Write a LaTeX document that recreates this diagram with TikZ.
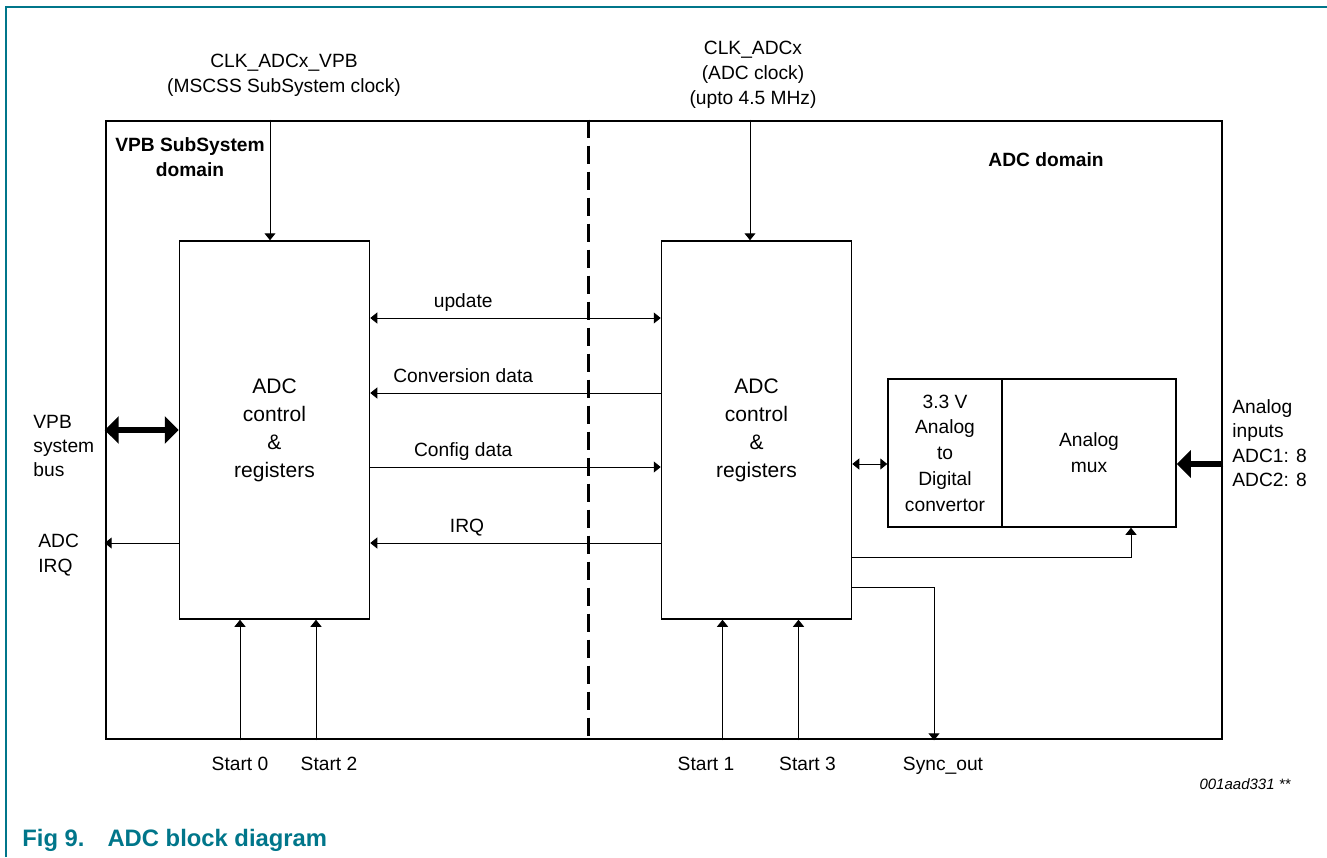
\documentclass[tikz,border=0pt]{standalone}
\usepackage{fontspec}
\setmainfont{Liberation Sans}
\usetikzlibrary{arrows.meta}
\definecolor{nxpteal}{RGB}{0,118,138}

\begin{document}
\begin{tikzpicture}
        [
            x = 0.5pt, y = -0.5pt,
            every node/.style   = {font=\fontsize{9.6}{12.6}\selectfont, inner sep=0pt, align=center},
            boxed/.style        = {shape=rectangle, draw, line width=0.75pt, align=center},
            regbox/.style       = {boxed, minimum width=95pt, minimum height=189pt, font=\fontsize{10.5}{14}\selectfont},
            domainlabel/.style  = {font=\bfseries\fontsize{9.6}{12.8}\selectfont},
            siglabel/.style     = {above=3pt, text height=7pt, text depth=2pt},
            pinlabel/.style     = {text height=7pt, text depth=2pt},
            sig/.style          = {draw, line width=0.5pt, >={Triangle[length=3.5pt,width=5.5pt]}},
            bus/.style          = {draw, line width=2.6pt, >={Triangle[length=7pt,width=13.5pt]}},
            ]
            \useasboundingbox (0,0) rectangle (1327,857);
            % page frame
            \draw [nxpteal, line width=0.8pt] (6,857) -- (6,7) -- (1327,7);
            % blocks
            \node [draw, line width=1.3pt, minimum width=558pt, minimum height=309pt] (domain) at (664,430) {};
            \node [regbox] (vpbreg) at (274.5,430) {ADC\\control\\\&\\registers};
            \node [regbox] (adcreg) at (756.5,430) {ADC\\control\\\&\\registers};
            \node [boxed, minimum width=57pt, minimum height=74pt, font=\fontsize{9.6}{12.9}\selectfont] (adcv) at (945,453) {3.3 V\\Analog\\to\\Digital\\convertor};
            \node [boxed, minimum width=87pt, minimum height=74pt, font=\fontsize{9.6}{13}\selectfont] (mux) at (1089,453) {Analog\\mux};
            \draw [line width=1.5pt, dash pattern=on 9pt off 4pt] (588,0 |- domain.north) -- (588,0 |- domain.south);
            % domain names
            \node [domainlabel] (vpbdom) at (190,157) {VPB SubSystem\\domain};
            \node [domainlabel] (adcdom) at (1046,160) {ADC domain};
            % clocks
            \node (clkvpb) at (284,75) {CLK\_ADCx\_VPB\\(MSCSS SubSystem clock)};
            \node (clkadc) at (753,75) {CLK\_ADCx\\(ADC clock)\\(upto 4.5 MHz)};
            \draw [sig, ->] ([xshift=-2.25pt]vpbreg.north |- domain.north) -- ([xshift=-2.25pt]vpbreg.north);
            \draw [sig, ->] ([xshift=-3.25pt]adcreg.north |- domain.north) -- ([xshift=-3.25pt]adcreg.north);
            % signals between the domains
            \draw [sig, <->] (vpbreg.east |- 0,318) -- node [pos=0.32, siglabel] {update} (adcreg.west |- 0,318);
            \draw [sig, <-] (vpbreg.east |- 0,393) -- node [pos=0.32, siglabel] {Conversion data} (adcreg.west |- 0,393);
            \draw [sig, ->] (vpbreg.east |- 0,467) -- node [pos=0.32, siglabel] {Config data} (adcreg.west |- 0,467);
            \draw [sig, <-] (vpbreg.east |- 0,543) -- node [pos=0.333, siglabel] {IRQ} (adcreg.west |- 0,543);
            % system side
            \draw [bus, <->] (domain.west |- vpbreg.west) -- (vpbreg.west);
            \draw [sig, ->] (vpbreg.west |- 0,543) -- (domain.west |- 0,543);
            \node [anchor=west, align=left, font=\fontsize{9.6}{12.2}\selectfont] (vpbbus) at (33,446) {VPB\\system\\bus};
            \node [anchor=west, align=left, font=\fontsize{9.6}{12.2}\selectfont] (adcirq) at (38,555) {ADC\\IRQ};
            % analog side
            \draw [sig, <->] (adcreg.east |- 0,464) -- (adcv.west |- 0,464);
            \draw [bus, ->] (domain.east |- 0,464) -- (mux.east |- 0,464);
            \draw [sig, ->] (adcreg.east |- 0,557) -| ([xshift=21pt]mux.south);
            \node [anchor=west, align=left, font=\fontsize{9.6}{12.2}\selectfont] (analogin) at (1232,443) {Analog\\inputs\\ADC1: 8\\ADC2: 8};
            % start inputs and sync output
            \foreach \xs in {240,316}
                \draw [sig, ->] (\xs,0 |- domain.south) -- (\xs,0 |- vpbreg.south);
            \foreach \xs in {722.5,798.5}
                \draw [sig, ->] (\xs,0 |- domain.south) -- (\xs,0 |- adcreg.south);
            \draw [sig, ->] (adcreg.east |- 0,587) -| (934,0 |- domain.south);
            \node [pinlabel] (start0) at (240,765) {Start 0};
            \node [pinlabel] (start2) at (329,765) {Start 2};
            \node [pinlabel] (start1) at (706,765) {Start 1};
            \node [pinlabel] (start3) at (807.5,765) {Start 3};
            \node [pinlabel] (syncout) at (943,765) {Sync\_out};
            % figure tag and caption
            \node [font=\itshape\fontsize{7.5}{9}\selectfont] (figtag) at (1245,784) {001aad331 **};
            \node [anchor=base west, text=nxpteal, font=\bfseries\fontsize{11.9}{14}\selectfont] (caption) at (22,846) {Fig 9.\hspace{11.5pt}ADC block diagram};
        \end{tikzpicture}
\end{document}
